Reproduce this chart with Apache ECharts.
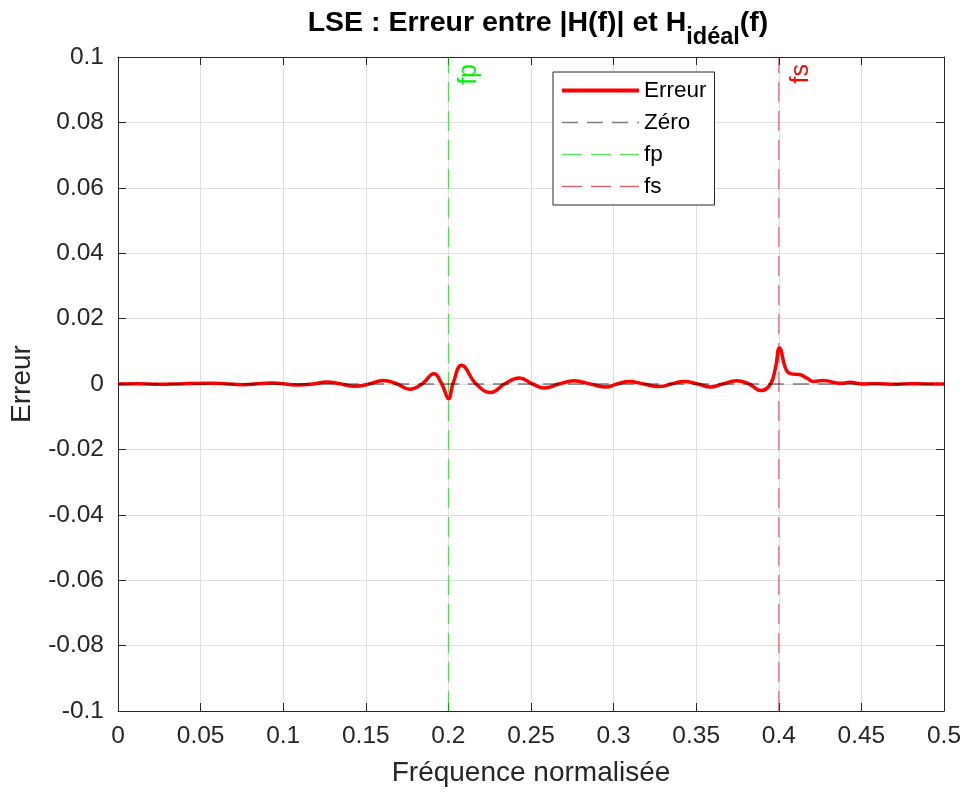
<!DOCTYPE html>
<html>
<head>
<meta charset="utf-8">
<script src="https://cdn.jsdelivr.net/npm/echarts@6/dist/echarts.min.js"></script>
<style>
html,body{margin:0;padding:0;background:#fff;}
#chart{width:966px;height:792px;}
</style>
</head>
<body>
<div id="chart"></div>
<script>
// ---- Data ----
const freqErr = [0, 0.012, 0.025, 0.04, 0.057, 0.077, 0.093, 0.109, 0.118, 0.1262, 0.135, 0.1433, 0.152, 0.1604, 0.169, 0.1765, 0.184, 0.1912, 0.196, 0.2001, 0.2027, 0.208, 0.2168, 0.2258, 0.2339, 0.243, 0.251, 0.258, 0.267, 0.276, 0.286, 0.2953, 0.302, 0.3094, 0.318, 0.3275, 0.335, 0.3426, 0.351, 0.3587, 0.366, 0.3744, 0.382, 0.3893, 0.395, 0.398, 0.4004, 0.4044, 0.4074, 0.4124, 0.417, 0.421, 0.427, 0.437, 0.443, 0.451, 0.46, 0.47, 0.48, 0.49, 0.5];
const valErr  = [0, 0.0001, -0.0001, 0.0001, 0.0002, -0.0002, 0.0003, -0.0003, 0, 0.0006, 0, -0.0007, 0, 0.0011, 0, -0.0016, 0, 0.0031, 0, -0.0045, 0, 0.0057, 0, -0.0026, 0, 0.0018, 0, -0.0012, 0, 0.001, 0, -0.0009, 0, 0.0008, 0, -0.0008, 0, 0.0008, 0, -0.0009, 0, 0.001, 0, -0.002, 0, 0.005, 0.011, 0.0044, 0.0031, 0.0029, 0.0018, 0.0008, 0.0011, 0.0002, 0.0005, 0, 0.0001, -0.0001, 0.0001, 0, 0];
const zeroX = [0, 0.5];
const zeroY = [0, 0];
const fpX = [0.2, 0.2];
const fsX = [0.4, 0.4];
const vLineY = [-0.1, 0.1];
const legendNames = ['Erreur', 'Zéro', 'fp', 'fs'];
const xTicks = {min: 0, max: 0.5, interval: 0.05};
const yTicks = {min: -0.1, max: 0.1, interval: 0.02};

const zip = (a, b) => a.map((v, i) => [v, b[i]]);

const FONT = '"Liberation Sans", Arial, Helvetica, sans-serif';
const AXC = '#262626';
const chart = echarts.init(document.getElementById('chart'), null, {renderer: 'canvas'});

const baseX = {
  type: 'value', min: xTicks.min, max: xTicks.max, interval: xTicks.interval,
  axisLine: {show: true, onZero: false, lineStyle: {color: AXC, width: 1}},
  axisTick: {show: true, inside: true, length: 8, lineStyle: {color: AXC}},
};
const baseY = {
  type: 'value', min: yTicks.min, max: yTicks.max, interval: yTicks.interval,
  axisLine: {show: true, onZero: false, lineStyle: {color: AXC, width: 1}},
  axisTick: {show: true, inside: true, length: 8, lineStyle: {color: AXC}},
};

const option = {
  animation: false,
  backgroundColor: '#ffffff',
  title: {
    left: 533, top: 8, textAlign: 'center',
    text: '{a|LSE : Erreur entre |H(f)| et H}{b|idéal}{a|(f)}',
    textStyle: {
      fontFamily: FONT,
      rich: {
        a: {fontFamily: FONT, fontSize: 28.5, fontWeight: 'bold', color: '#000', lineHeight: 32, padding: [0, 0, 12, 0]},
        b: {fontFamily: FONT, fontSize: 23.5, fontWeight: 'bold', color: '#000', lineHeight: 26, padding: [18, 0, 0, 0]}
      }
    }
  },
  grid: {left: 116, right: 22, top: 57, bottom: 81, containLabel: false},
  xAxis: [
    Object.assign({}, baseX, {
      position: 'bottom',
      name: 'Fréquence normalisée', nameLocation: 'middle', nameGap: 48,
      nameTextStyle: {fontFamily: FONT, fontSize: 28, color: AXC},
      axisLabel: {fontFamily: FONT, fontSize: 24.5, color: AXC, margin: 13},
      splitLine: {show: true, lineStyle: {color: '#dfdfdf', width: 1}}
    }),
    Object.assign({}, baseX, {
      position: 'top', axisLabel: {show: false}, splitLine: {show: false}
    })
  ],
  yAxis: [
    Object.assign({}, baseY, {
      position: 'left',
      name: 'Erreur', nameLocation: 'middle', nameGap: 82,
      nameTextStyle: {fontFamily: FONT, fontSize: 28, color: AXC},
      axisLabel: {fontFamily: FONT, fontSize: 24.5, color: AXC, margin: 14},
      splitLine: {show: true, lineStyle: {color: '#dfdfdf', width: 1}}
    }),
    Object.assign({}, baseY, {
      position: 'right', axisLabel: {show: false}, splitLine: {show: false}
    })
  ],
  legend: {
    show: true,
    orient: 'vertical', left: 553, top: 72,
    padding: [7, 8, 7, 7], itemGap: 9, itemWidth: 77, itemHeight: 14,
    borderColor: AXC, borderWidth: 1, backgroundColor: '#fff',
    textStyle: {fontFamily: FONT, fontSize: 22.5, color: '#000'},
    itemStyle: {opacity: 0, color: 'transparent', borderWidth: 0},
    data: [
      {name: legendNames[0], lineStyle: {width: 4}},
      {name: legendNames[1], lineStyle: {width: 1.5}},
      {name: legendNames[2], lineStyle: {width: 1.5}},
      {name: legendNames[3], lineStyle: {width: 1.5}}
    ],
    selectedMode: false
  },
  series: [
    {
      name: legendNames[0], type: 'line', data: zip(freqErr, valErr),
      smooth: 0.45, symbol: 'none', showSymbol: false,
      lineStyle: {color: '#ff0000', width: 3.5}, itemStyle: {color: '#ff0000'}, z: 3
    },
    {
      name: legendNames[1], type: 'line', data: zip(zeroX, zeroY),
      symbol: 'none', showSymbol: false,
      lineStyle: {color: 'rgba(0,0,0,0.5)', width: 1.5, type: [16, 9]}, itemStyle: {color: 'rgba(0,0,0,0.5)'}, z: 4
    },
    {
      name: legendNames[2], type: 'line', data: zip(fpX, vLineY),
      symbol: 'none', showSymbol: false,
      lineStyle: {color: 'rgba(0,220,0,0.65)', width: 1.2, type: [20, 9]}, itemStyle: {color: 'rgba(0,220,0,0.65)'}, z: 2
    },
    {
      name: legendNames[3], type: 'line', data: zip(fsX, vLineY),
      symbol: 'none', showSymbol: false,
      lineStyle: {color: 'rgba(200,0,20,0.6)', width: 1.2, type: [20, 9]}, itemStyle: {color: 'rgba(200,0,20,0.6)'}, z: 2
    }
  ]
};
chart.setOption(option);

// rotated annotations "fp" and "fs" placed through the axis scales
const pFp = chart.convertToPixel({gridIndex: 0}, [fpX[1], vLineY[1]]);
const pFs = chart.convertToPixel({gridIndex: 0}, [fsX[1], vLineY[1]]);
chart.setOption({
  graphic: [
    {type: 'text', x: pFp[0] + 21, y: pFp[1] + 7, rotation: Math.PI / 2, z: 10,
     style: {text: 'fp', fill: '#00ee00', fontFamily: FONT, fontSize: 25, align: 'right', verticalAlign: 'middle'}},
    {type: 'text', x: pFs[0] + 22, y: pFs[1] + 7, rotation: Math.PI / 2, z: 10,
     style: {text: 'fs', fill: '#ff0000', fontFamily: FONT, fontSize: 25, align: 'right', verticalAlign: 'middle'}}
  ]
});
</script>
</body>
</html>
